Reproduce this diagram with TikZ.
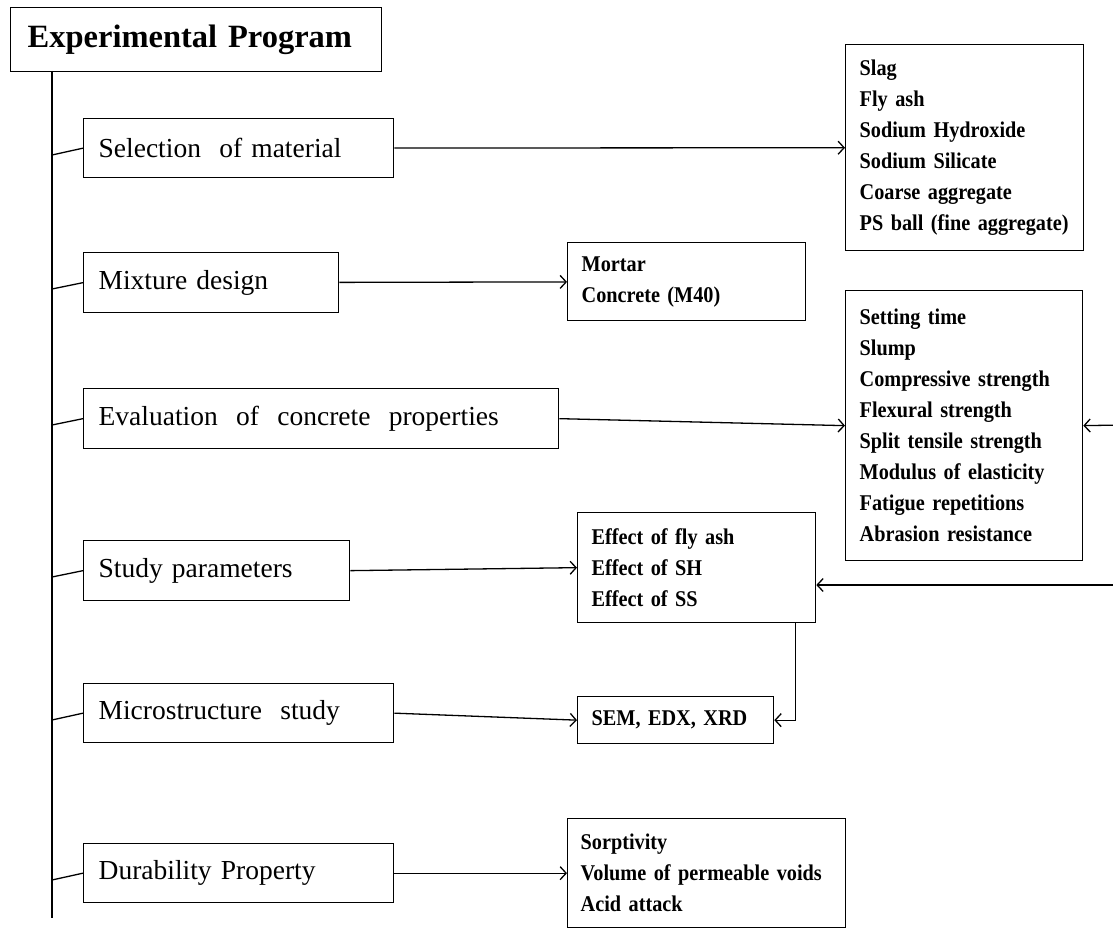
\documentclass[tikz,border=0pt]{standalone}
\usepackage{fontspec}
\setmainfont{Liberation Serif}
\newfontfamily\plainserif{Liberation Serif}
\newfontfamily\listserif{Liberation Serif}[FakeStretch=0.9]
\usepackage{tikz}
\usetikzlibrary{arrows.meta}
\newcommand{\titlefont}{\plainserif\fontsize{32.5}{36}\selectfont\bfseries}
\newcommand{\stagefont}{\plainserif\fontsize{27.5}{32}\selectfont}
\newcommand{\listfont}{\listserif\fontsize{22.5}{31}\selectfont\bfseries\spaceskip=0.18em plus 0.05em\hyphenpenalty=10000\exhyphenpenalty=10000}

\begin{document}
\begin{tikzpicture}[x=1pt,y=-1pt,line width=1.3pt,
  stage/.style={rectangle, draw, anchor=north west, inner xsep=15pt, inner ysep=0pt, align=left, font=\stagefont},
  items/.style={rectangle, draw, anchor=north west, inner xsep=14pt, inner ysep=0pt, align=left, font=\listfont},
  arr/.style={-{Straight Barb[length=6pt,width=13pt]}}]
\useasboundingbox (0,0) rectangle (1113,928);

\node[rectangle, draw, anchor=north west, inner xsep=17pt, inner ysep=0pt, text width=337pt, minimum height=64pt, font=\titlefont] (program) at (10,7) {Experimental Program};

\node[stage, text width=280pt, minimum height=59pt] (selection) at (83,118) {Selection\ \ of material};
\node[stage, text width=225pt, minimum height=60pt] (mixture) at (83,252) {Mixture design};
\node[stage, text width=445pt, minimum height=60pt] (evaluation) at (83,388) {Evaluation\ \ of\ \ concrete\ \ properties};
\node[stage, text width=236pt, minimum height=60pt] (study) at (83,540) {Study parameters};
\node[stage, text width=280pt, minimum height=59pt] (micro) at (83,683) {Microstructure\ \ study};
\node[stage, text width=280pt, minimum height=59pt] (durability) at (83,843) {Durability Property};

\node[items, text width=210pt, minimum height=206pt] (materials) at (845,44) {Slag\\Fly ash\\Sodium Hydroxide\\Sodium Silicate\\Coarse aggregate\\PS ball (fine aggregate)};
\node[items, text width=210pt, minimum height=78pt] (mixes) at (567,242) {Mortar\\Concrete (M40)};
\node[items, text width=209pt, minimum height=270pt] (tests) at (845,290) {Setting time\\Slump\\Compressive strength\\Flexural strength\\Split tensile strength\\Modulus of elasticity\\Fatigue repetitions\\Abrasion resistance};
\node[items, text width=210pt, minimum height=110pt] (effects) at (577,512) {Effect of fly ash\\Effect of SH\\Effect of SS};
\node[items, text width=168pt, minimum height=47pt] (sem) at (577,696) {SEM, EDX, XRD};
\node[items, inner xsep=13pt, text width=252pt, minimum height=109pt] (voids) at (567,818) {Sorptivity\\Volume of permeable voids\\Acid attack};

\coordinate (trunktop) at (52,71);
\coordinate (trunkend) at (52,918);
\draw (trunktop) -- (trunkend);

\coordinate (tick1) at (52,155);
\coordinate (tick2) at (52,289);
\coordinate (tick3) at (52,425);
\coordinate (tick4) at (52,577);
\coordinate (tick5) at (52,720);
\coordinate (tick6) at (52,880);
\draw (tick1) -- (selection.west);
\draw (tick2) -- (mixture.west);
\draw (tick3) -- (evaluation.west);
\draw (tick4) -- (study.west);
\draw (tick5) -- (micro.west);
\draw (tick6) -- (durability.west);

\draw[arr] (selection) -- (materials);
\draw[arr] (mixture) -- (mixes);
\draw[arr] (evaluation.east) -- (tests.west);
\draw[arr] (study.east) -- (effects.west);
\draw[arr] (micro.east) -- (sem.west);
\draw[arr] (durability.east) -- (voids.west);

\coordinate (loopa) at (1122,425);
\coordinate (loopb) at (1122,585);
\draw[arr] (loopa) -- (tests.east);
\draw[arr] (loopa) -- (loopb) -- (effects.east |- loopb);
\draw[arr] ([xshift=-21pt]effects.south east) |- (sem.east);
\end{tikzpicture}
\end{document}
